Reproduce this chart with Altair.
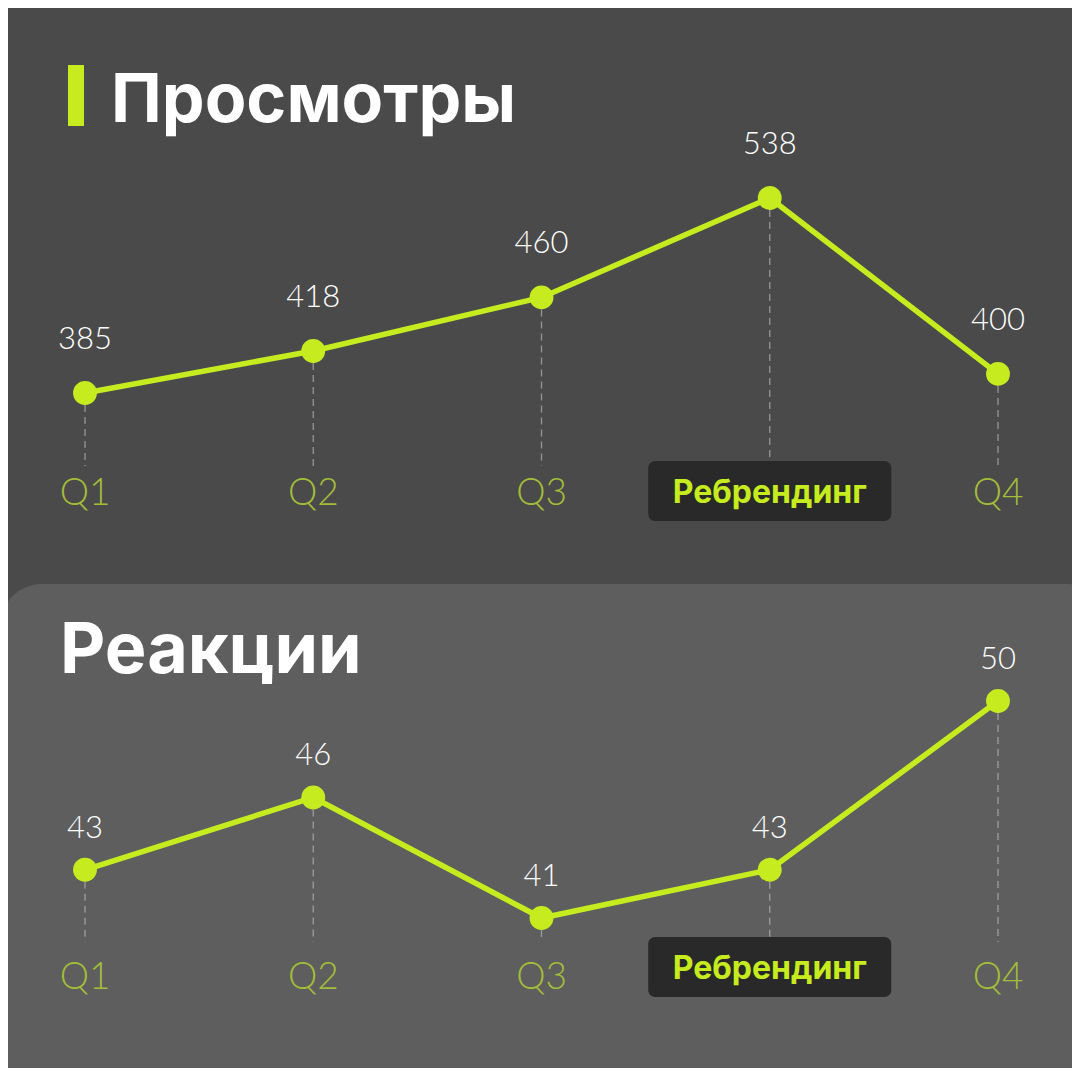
import altair as alt
import pandas as pd

# ---- data ----
quarters = ["Q1", "Q2", "Q3", "Ребрендинг", "Q4"]
views = [385, 418, 460, 538, 400]
reactions = [43, 46, 41, 43, 50]
REBRAND = "Ребрендинг"

df = pd.DataFrame({"q": quarters, "views": views, "reactions": reactions})

LIME = "#c6ec1f"
OLIVE = "#a3bd3a"
BG_TOP = "#4a4a4a"
BG_BOT = "#5e5e5e"
BOX = "#292929"
FONT = "Inter"
LIGHT = "Lato"

base = alt.Chart(df)
one = alt.Data(values=[{"a": 1}])

xenc = alt.X("q:N", sort=quarters,
             scale=alt.Scale(type="point", domain=quarters, range=[77, 990],
                             padding=0),
             axis=None)
ytop = alt.Y("views:Q", scale=alt.Scale(domain=[385, 538], range=[385, 190],
                                        zero=False, nice=False), axis=None)
ybot = alt.Y("reactions:Q", scale=alt.Scale(domain=[41, 50], range=[910, 693],
                                            zero=False, nice=False), axis=None)

# ---- decorations ----
panel = alt.Chart(one).mark_rect(color=BG_BOT, cornerRadiusTopLeft=42,
                                 cornerRadiusTopRight=42).encode(
    x=alt.value(-8), x2=alt.value(1100), y=alt.value(576), y2=alt.value(1200))

accent = alt.Chart(one).mark_rect(color=LIME).encode(
    x=alt.value(60), x2=alt.value(76), y=alt.value(57), y2=alt.value(118))

title1 = alt.Chart(one).mark_text(text="Просмотры", font=FONT, fontSize=68,
                                  fontWeight=700, color="white", align="left",
                                  baseline="alphabetic").encode(
    x=alt.value(103), y=alt.value(114))
title2 = alt.Chart(one).mark_text(text="Реакции", font=FONT, fontSize=70,
                                  fontWeight=700, color="white", align="left",
                                  baseline="alphabetic").encode(
    x=alt.value(52), y=alt.value(665))


def panel_layers(yenc, field, rule_end, q_base, box_top, rb_base, label_dy):
    rules = base.mark_rule(color="#c8c8c8", strokeDash=[7, 5], strokeWidth=1.3,
                           opacity=0.6).encode(x=xenc, y=yenc, y2=alt.value(rule_end))
    line = base.mark_line(color=LIME, strokeWidth=5.5).encode(x=xenc, y=yenc)
    pts = base.mark_circle(color=LIME, size=570, opacity=1).encode(x=xenc, y=yenc)
    vals = base.mark_text(font=LIGHT, fontSize=31, fontWeight=300, color="white",
                          baseline="alphabetic", dy=label_dy).encode(
        x=xenc, y=yenc, text=alt.Text(f"{field}:Q"))
    qlab = base.transform_filter(alt.datum.q != REBRAND).mark_text(
        font=LIGHT, fontSize=37, fontWeight=300, color=OLIVE,
        baseline="alphabetic").encode(x=xenc, y=alt.value(q_base), text="q:N")
    box = base.transform_filter(alt.datum.q == REBRAND).mark_rect(
        color=BOX, width=243, cornerRadius=7).encode(
        x=xenc, y=alt.value(box_top), y2=alt.value(box_top + 60))
    rb = base.transform_filter(alt.datum.q == REBRAND).mark_text(
        font=FONT, fontSize=32, fontWeight=700, color=LIME,
        baseline="alphabetic").encode(x=xenc, y=alt.value(rb_base), text="q:N")
    return [rules, line, pts, vals, qlab, box, rb]


top_layers = panel_layers(ytop, "views", 458, 497, 453, 495, -44)
bot_layers = panel_layers(ybot, "reactions", 934, 981, 929, 971, -32)

chart = alt.layer(panel, accent, title1, title2, *top_layers, *bot_layers).resolve_scale(
    y="independent"
).properties(
    width=1064, height=1060, padding=0,
    autosize=alt.AutoSizeParams(type="none"),
).configure(background=BG_TOP).configure_view(stroke=None)

chart.save("out.html", embed_options={"renderer": "svg", "actions": False})
